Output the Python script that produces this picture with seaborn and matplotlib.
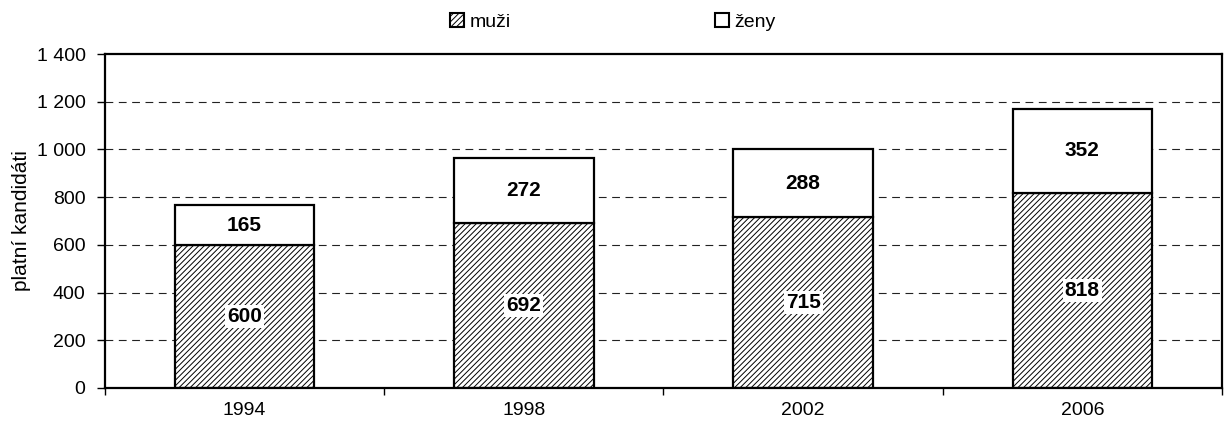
import matplotlib
matplotlib.use("Agg")
import matplotlib.pyplot as plt
import seaborn as sns
import pandas as pd
from matplotlib.patches import Patch
from matplotlib.ticker import FuncFormatter, FixedLocator

years = ["1994", "1998", "2002", "2006"]
muzi = [600, 692, 715, 818]
zeny = [165, 272, 288, 352]
yticks = [0, 200, 400, 600, 800, 1000, 1200, 1400]

sns.set_style("white")
plt.rcParams['font.family'] = ['Liberation Sans', 'DejaVu Sans']
plt.rcParams['text.color'] = 'black'
plt.rcParams['axes.labelcolor'] = 'black'
plt.rcParams['xtick.color'] = 'black'
plt.rcParams['ytick.color'] = 'black'
plt.rcParams['xtick.labelsize'] = 14
plt.rcParams['ytick.labelsize'] = 14
plt.rcParams['hatch.color'] = '#606060'
plt.rcParams['hatch.linewidth'] = 0.7

df = pd.DataFrame({"rok": years, "muzi": muzi, "zeny": zeny})

fig = plt.figure(figsize=(12.26, 4.28), dpi=100)
ax = fig.add_axes([0.0856, 0.0935, 0.9111, 0.7803])

ax.set_axisbelow(True)
for y in yticks[1:-1]:
    ax.axhline(y, color='#222222', lw=0.8, ls=(0, (7, 5)), zorder=0)

sns.barplot(data=df, x="rok", y="muzi", ax=ax, color="white", edgecolor="black",
            linewidth=1.6, width=0.5, hatch="//////", saturation=1, zorder=2)
sns.barplot(data=df, x="rok", y="zeny", ax=ax, color="white", edgecolor="black",
            linewidth=1.6, width=0.5, bottom=df["muzi"], saturation=1, zorder=2)

for i, (m, z) in enumerate(zip(muzi, zeny)):
    ax.text(i, m / 2, str(m), ha='center', va='center', fontsize=15, fontweight='bold',
            color='black', bbox=dict(facecolor='white', edgecolor='none', pad=1.5), zorder=5)
    ax.text(i, m + z / 2, str(z), ha='center', va='center', fontsize=15, fontweight='bold',
            color='black', zorder=5)

ax.set_xlim(-0.5, 3.5)
ax.set_ylim(0, 1400)
ax.set_yticks(yticks)
ax.yaxis.set_major_formatter(FuncFormatter(lambda v, p: f"{int(v):,}".replace(",", " ")))
ax.set_ylabel("platní kandidáti", fontsize=15, labelpad=4, color='black')
ax.set_xlabel("")
ax.tick_params(axis='y', which='major', direction='out', length=6, width=1, labelsize=14,
               colors='black', left=True, pad=8)
ax.tick_params(axis='x', which='major', length=0, labelsize=14, pad=10, colors='black')
for lab in ax.get_xticklabels():
    lab.set_fontsize(14)
ax.xaxis.set_minor_locator(FixedLocator([-0.5, 0.5, 1.5, 2.5, 3.5]))
ax.tick_params(axis='x', which='minor', direction='out', length=5, width=1, color='black', bottom=True)

for s in ax.spines.values():
    s.set_visible(True)
    s.set_color('black')
    s.set_linewidth(1.6)

handles = [Patch(facecolor='white', edgecolor='black', hatch='//////', linewidth=1.5, label='muži'),
           Patch(facecolor='white', edgecolor='black', linewidth=1.5, label='ženy')]
fig.legend(handles=handles, loc='upper center', bbox_to_anchor=(0.5, 1.01), ncol=2,
           frameon=False, fontsize=14, handlelength=0.7, handleheight=0.7,
           handletextpad=0.3, columnspacing=10.5)

fig.savefig("out.png", dpi=100)
